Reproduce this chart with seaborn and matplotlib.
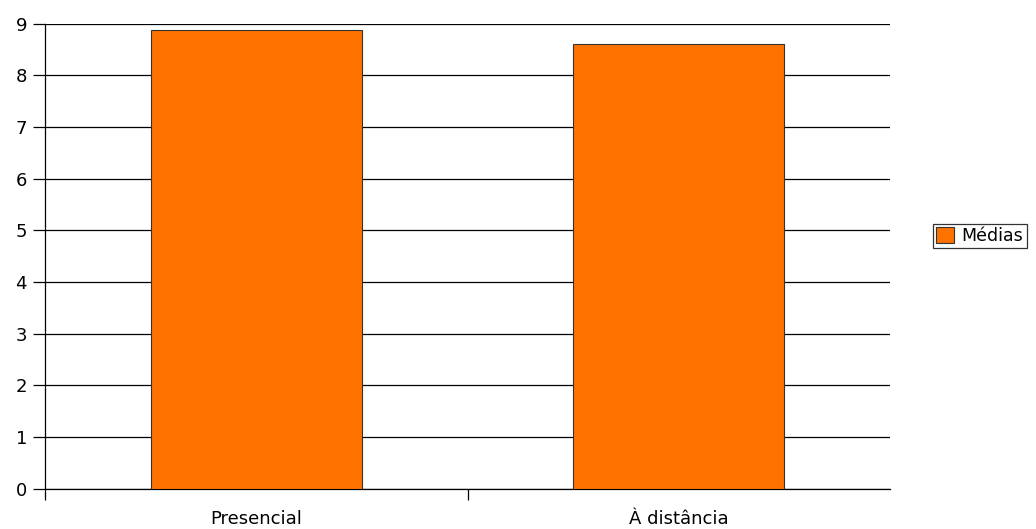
import matplotlib
matplotlib.use("Agg")
import matplotlib.pyplot as plt
import seaborn as sns
import pandas as pd
from matplotlib.ticker import FixedLocator, NullFormatter, FixedFormatter

categories = ["Presencial", "À distância"]
values = [8.88, 8.61]
series_name = "Médias"

df = pd.DataFrame({"cat": categories, "val": values, "serie": [series_name] * len(categories)})

sns.set_theme(style="white")
plt.rcParams["font.family"] = ["DejaVu Sans"]
plt.rcParams["text.color"] = "black"

fig = plt.figure(figsize=(10.36, 5.29), dpi=100)
ax = fig.add_axes([45 / 1036, 1 - 488.7 / 529, (890 - 45) / 1036, (488.7 - 23.7) / 529])

sns.barplot(data=df, x="cat", y="val", hue="serie", palette=["#ff7200"], saturation=1,
            width=0.5, edgecolor="#333333", linewidth=0.8, ax=ax, legend=True, zorder=3)

ax.set_xlim(-0.5, 1.5)
ax.set_ylim(0, 9)
ax.set_yticks(range(0, 10))
ax.set_yticklabels([str(i) for i in range(0, 10)], fontsize=13, color="black")
ax.yaxis.grid(True, color="black", linewidth=0.9, zorder=0)
ax.set_axisbelow(True)

ax.xaxis.set_major_locator(FixedLocator([-0.5, 0.5]))
ax.xaxis.set_major_formatter(NullFormatter())
ax.xaxis.set_minor_locator(FixedLocator([0, 1]))
ax.xaxis.set_minor_formatter(FixedFormatter(categories))
ax.tick_params(axis="x", which="major", direction="out", length=8, width=0.9, color="black", bottom=True)
ax.tick_params(axis="x", which="minor", length=0, pad=15, labelsize=13, labelcolor="black", bottom=True)
ax.tick_params(axis="y", which="major", direction="out", length=9, width=0.9, color="black", left=True, pad=4)

ax.set_xlabel("")
ax.set_ylabel("")
for s in ["top", "right"]:
    ax.spines[s].set_visible(False)
for s in ["left", "bottom"]:
    ax.spines[s].set_color("black")
    ax.spines[s].set_linewidth(0.9)

leg = ax.legend(loc="center left", bbox_to_anchor=(933 / 1036, 1 - 236 / 529),
                bbox_transform=fig.transFigure, fontsize=12.5, frameon=True, fancybox=False,
                borderpad=0.2, handlelength=1.0, handleheight=1.0, handletextpad=0.45,
                borderaxespad=0)
leg.get_frame().set_edgecolor("black")
leg.get_frame().set_linewidth(0.9)
for t in leg.get_texts():
    t.set_color("black")

fig.savefig("out.png", dpi=100, facecolor="white")
